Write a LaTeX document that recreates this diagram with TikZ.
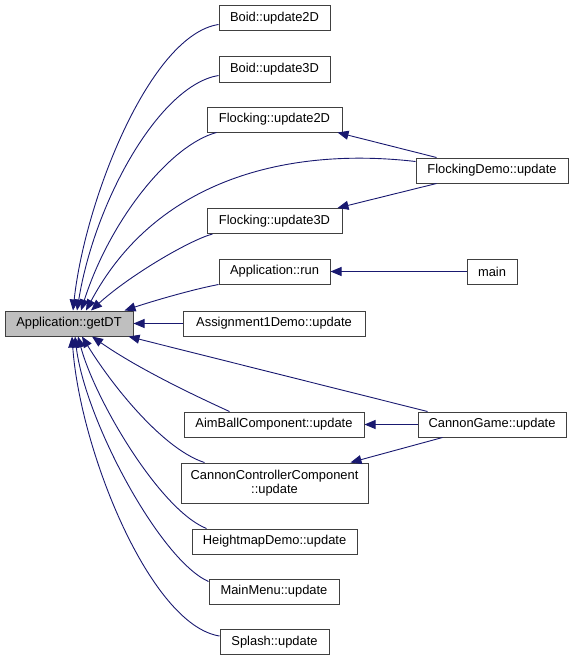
\documentclass[tikz,border=0pt]{standalone}
\usepackage{fontspec}
\setmainfont{Liberation Sans}
\usetikzlibrary{arrows.meta}
\definecolor{edgeblue}{RGB}{25,25,112}

\begin{document}
\begin{tikzpicture}[x=1pt,y=-1pt,
  box/.style={draw=black!75,line width=1pt,fill=white,inner sep=0pt,minimum height=25pt,
    align=center,font=\fontsize{12.9}{14}\selectfont},
  call/.style={edgeblue,line width=0.9pt,-{Triangle[length=11pt,width=9pt]}}]
\useasboundingbox (0,0) rectangle (573,661);

\node[box,fill=black!25,minimum width=128pt] (dt) at (69,323.5) {Application::getDT};

\node[box,minimum width=111pt] (b2) at (274.5,18.5) {Boid::update2D};
\node[box,minimum width=111pt] (b3) at (274.5,69.5) {Boid::update3D};
\node[box,minimum width=135pt] (f2) at (274.5,119.5) {Flocking::update2D};
\node[box,minimum width=135pt] (f3) at (274.5,221) {Flocking::update3D};
\node[box,minimum width=152pt] (fd) at (492,170.5) {FlockingDemo::update};
\node[box,minimum width=111pt] (run) at (274.5,271.5) {Application::run};
\node[box,minimum width=50pt] (main) at (492,271.5) {main};
\node[box,minimum width=182pt] (a1) at (274,323.5) {Assignment1Demo::update};
\node[box,minimum width=180pt] (aim) at (274,424.5) {AimBallComponent::update};
\node[box,minimum width=148pt] (cg) at (492,424.5) {CannonGame::update};
\node[box,minimum width=187pt,minimum height=40pt] (cc) at (274.5,483) {CannonControllerComponent\\::update};
\node[box,minimum width=165pt] (hm) at (274.5,541.5) {HeightmapDemo::update};
\node[box,minimum width=130pt] (mm) at (274,591.5) {MainMenu::update};
\node[box,minimum width=109pt] (sp) at (274.5,642) {Splash::update};

% callers above getDT
\draw[call] ([yshift=-6pt]b2.west) .. controls (150,35) and (85,200) .. ([xshift=4pt]dt.north);
\draw[call] ([yshift=-6pt]b3.west) .. controls (160,85) and (95,200) .. ([xshift=8pt]dt.north);
\draw[call] ([xshift=10pt]f2.south west) .. controls (170,145) and (110,220) .. ([xshift=12pt]dt.north);
\draw[call] ([yshift=9pt]fd.west) .. controls (300,148) and (160,172) .. ([xshift=17pt]dt.north);
\draw[call] ([xshift=6pt]f3.south west) .. controls (190,240) and (130,275) .. ([xshift=22pt]dt.north);
\draw[call] (run.south west) .. controls (190,290) and (150,302) .. ([xshift=-9pt]dt.north east);
\draw[call] (a1) -- (dt);

% callers below getDT
\draw[call] ([xshift=10pt]cg.north west) -- ([xshift=-5pt]dt.south east);
\draw[call] ([xshift=46pt]aim.north west) .. controls (200,398) and (140,370) .. ([xshift=23pt]dt.south);
\draw[call] ([xshift=24pt]cc.north west) .. controls (165,450) and (115,390) .. ([xshift=13pt]dt.south);
\draw[call] ([xshift=15pt]hm.north west) .. controls (160,510) and (95,400) .. ([xshift=9pt]dt.south);
\draw[call] ([yshift=10pt]mm.west) .. controls (160,560) and (85,420) .. ([xshift=6pt]dt.south);
\draw[call] ([yshift=6pt]sp.west) .. controls (150,625) and (80,450) .. ([xshift=3pt]dt.south);

% second level
\draw[call] ([xshift=21pt]fd.north west) -- ([xshift=-5pt]f2.south east);
\draw[call] ([xshift=21pt]fd.south west) -- ([xshift=-5pt]f3.north east);
\draw[call] (main) -- (run);
\draw[call] (cg) -- (aim);
\draw[call] ([xshift=25pt]cg.south west) -- ([xshift=-18pt]cc.north east);
\end{tikzpicture}
\end{document}
